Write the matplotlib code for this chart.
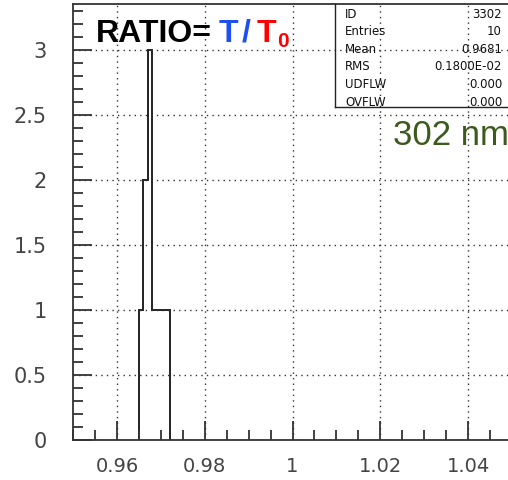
import numpy as np
import matplotlib
matplotlib.use("Agg")
import matplotlib.pyplot as plt
from matplotlib.ticker import MultipleLocator

# histogram 3302: ratio T/T0 at 302 nm
bin_edges = [0.965, 0.966, 0.967, 0.968, 0.969, 0.970, 0.971, 0.972]
bin_counts = [1, 2, 3, 1, 1, 1, 1]
stat_names = ["ID", "Entries", "Mean", "RMS", "UDFLW", "OVFLW"]
stat_values = ["3302", "10", "0.9681", "0.1800E-02", "0.000", "0.000"]
x_range = (0.95, 1.05)
y_range = (0, 3.35)

W, H = 508, 480
SANS = ["Liberation Sans", "DejaVu Sans"]


def fx(px):
    return px / W


def fy(py):
    return 1 - py / H


fig = plt.figure(figsize=(W / 100, H / 100), dpi=100)
ax = fig.add_axes([fx(73), fy(440), fx(512) - fx(73), fy(4) - fy(440)])

ax.stairs(bin_counts, bin_edges, baseline=0, fill=False, color="#222", lw=1.4)

ax.set_xlim(*x_range)
ax.set_ylim(*y_range)
ax.xaxis.set_major_locator(MultipleLocator(0.02))
ax.xaxis.set_minor_locator(MultipleLocator(0.005))
ax.yaxis.set_major_locator(MultipleLocator(0.5))
ax.yaxis.set_minor_locator(MultipleLocator(0.1))
ax.xaxis.set_major_formatter(plt.FuncFormatter(lambda v, p: f"{v:.2f}".rstrip("0").rstrip(".")))
ax.yaxis.set_major_formatter(plt.FuncFormatter(lambda v, p: f"{v:g}"))

ax.tick_params(which="both", direction="in", top=False, right=False, width=1.3, color="#333")
ax.tick_params(which="major", length=14)
ax.tick_params(which="minor", length=7)
ax.tick_params(axis="x", which="major", pad=12, labelsize=14, labelcolor="#444")
ax.tick_params(axis="y", which="major", pad=19, labelsize=15, labelcolor="#444")
for lab in ax.get_xticklabels() + ax.get_yticklabels():
    lab.set_fontfamily("DejaVu Sans")

ax.grid(True, which="major", color="#333", lw=1, ls=(0, (1, 3)))
ax.spines["right"].set_visible(False)
for s in ("left", "bottom", "top"):
    ax.spines[s].set_color("#333")
    ax.spines[s].set_linewidth(1.3)

# stats box (transparent, grid shows through)
fig.add_artist(plt.Line2D([fx(335), fx(335)], [fy(4), fy(107)], color="#222", lw=1))
fig.add_artist(plt.Line2D([fx(335), fx(510)], [fy(107), fy(107)], color="#222", lw=1))
for i, (nm, val) in enumerate(zip(stat_names, stat_values)):
    yy = fy(14 + i * 17.6)
    fig.text(fx(345), yy, nm, fontsize=8.5, va="center", ha="left", color="#111",
             family="DejaVu Sans")
    fig.text(fx(502), yy, val, fontsize=8.5, va="center", ha="right", color="#111",
             family="DejaVu Sans")

# title pieces
fig.text(fx(96), fy(42), "RATIO=", fontsize=23, weight="bold", family=SANS,
         color="black", va="baseline", ha="left")
fig.text(fx(219), fy(42), "T", fontsize=23, weight="bold", family=SANS,
         color="#1e4ff0", va="baseline", ha="left")
fig.text(fx(242), fy(42), "/", fontsize=23, weight="bold", family=SANS,
         color="#1e4ff0", va="baseline", ha="left")
fig.text(fx(257), fy(42), "T", fontsize=23, weight="bold", family=SANS,
         color="#ff0000", va="baseline", ha="left")
fig.text(fx(277), fy(47), "0", fontsize=15, weight="bold", family=SANS,
         color="#ff0000", va="baseline", ha="left")

fig.text(fx(393), fy(145), "302 nm", fontsize=25, family=SANS,
         color="#3d5a1e", va="baseline", ha="left")

fig.savefig("out.png", dpi=100, facecolor="white")
